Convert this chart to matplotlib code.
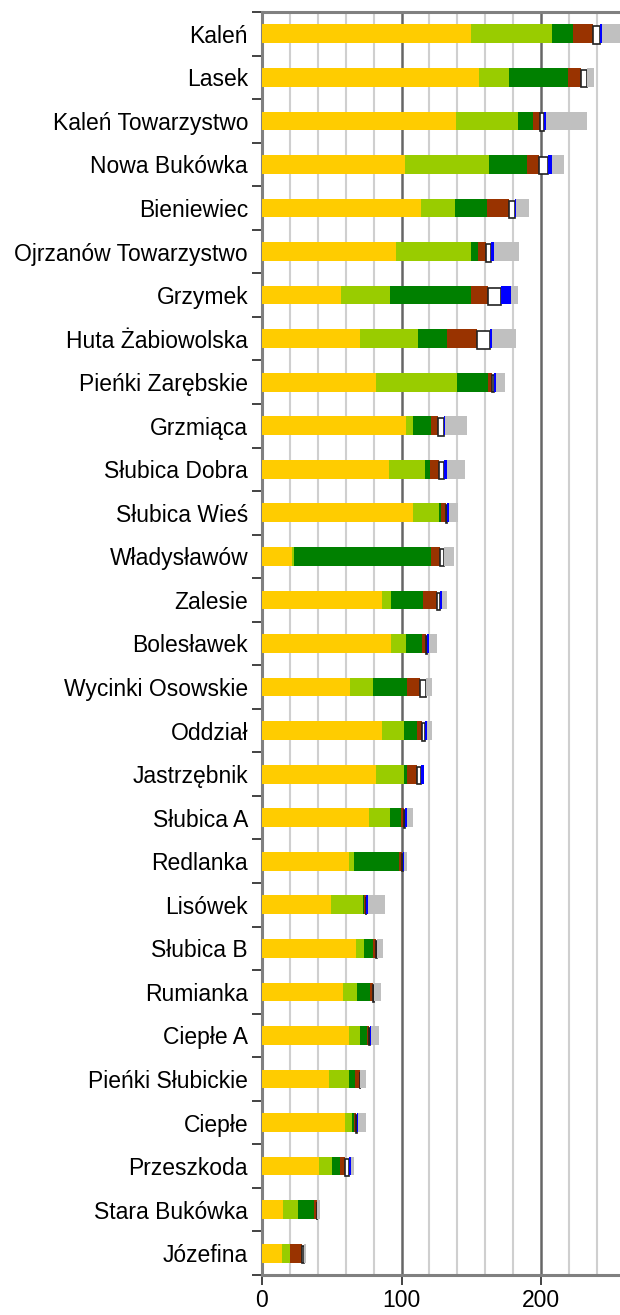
import numpy as np
import matplotlib.pyplot as plt
from matplotlib.ticker import MultipleLocator, FixedLocator

plt.rcParams['font.family'] = ['Liberation Sans', 'DejaVu Sans']

places = ["Kaleń", "Lasek", "Kaleń Towarzystwo", "Nowa Bukówka", "Bieniewiec",
          "Ojrzanów Towarzystwo", "Grzymek", "Huta Żabiowolska", "Pieńki Zarębskie",
          "Grzmiąca", "Słubica Dobra", "Słubica Wieś", "Władysławów", "Zalesie",
          "Bolesławek", "Wycinki Osowskie", "Oddział", "Jastrzębnik", "Słubica A",
          "Redlanka", "Lisówek", "Słubica B", "Rumianka", "Ciepłe A",
          "Pieńki Słubickie", "Ciepłe", "Przeszkoda", "Stara Bukówka", "Józefina"]

yellow = [150, 155.5, 139, 102.4, 113.9, 95.9, 56.5, 70.1, 81.6, 103.1, 90.9, 108.1,
          21.3, 85.9, 92.3, 62.9, 85.9, 81.6, 76.6, 62.2, 49.3, 67.2, 57.9, 62.2,
          47.8, 59.3, 40.7, 14.8, 14.1]
lgreen = [58.1, 21.5, 44.5, 60.3, 24.4, 53.8, 35.2, 41.6, 58.1, 5.0, 25.8, 18.7,
          1.4, 6.5, 10.8, 16.5, 15.8, 20.1, 15.1, 3.6, 23.0, 5.7, 10.0, 7.9,
          14.4, 5.0, 9.3, 10.8, 5.7]
dgreen = [14.8, 42.6, 10.5, 27.0, 22.7, 5.0, 57.7, 20.8, 22.2, 12.7, 3.6, 1.4,
          98.1, 23.0, 11.5, 24.2, 9.1, 1.9, 7.9, 32.1, 0.7, 6.5, 9.3, 5.0,
          4.3, 1.4, 5.7, 11.5, 0]
brown = [13.9, 9.1, 5.3, 8.9, 16.0, 5.7, 12.7, 21.5, 2.9, 5.0, 6.5, 3.6,
         6.7, 10.0, 2.9, 9.6, 3.8, 7.4, 2.2, 2.4, 1.4, 2.2, 2.2, 1.4,
         3.6, 1.4, 3.6, 2.2, 8.6]
white = [5.3, 4.0, 2.5, 6.5, 4.0, 3.6, 9.3, 9.3, 1.2, 4.3, 3.6, 1.0,
         2.9, 1.9, 1.0, 4.3, 1.9, 2.6, 1.0, 0.5, 0.3, 0.5, 0.7, 0.7,
         0.3, 1.0, 2.9, 0, 1.4]
blue = [1.7, 0, 1.4, 2.6, 1.0, 1.9, 7.2, 1.4, 1.4, 1.0, 2.2, 1.2,
        0, 1.7, 1.0, 0, 1.7, 2.4, 1.0, 1.0, 1.4, 0, 0, 0.7,
        0, 1.0, 1.4, 0, 0]
gray = [12.4, 5.3, 29.4, 8.9, 9.3, 18.2, 5.0, 17.2, 6.7, 15.8, 12.9, 6.7,
        7.2, 3.6, 6.0, 4.3, 3.6, 0, 4.5, 2.2, 12.2, 4.5, 5.0, 5.7,
        4.3, 5.3, 2.2, 1.9, 1.9]

series = [yellow, lgreen, dgreen, brown, white, blue, gray]
colors = ['#FFCC00', '#99CC00', '#008000', '#993300', '#FFFFFF', '#0000FF', '#C0C0C0']

fig = plt.figure(figsize=(6.2, 13.15), dpi=100)
ax = fig.add_axes([262/620, 40/1315, 1 - 262/620, 1263/1315])

y = np.arange(len(places))
left = np.zeros(len(places))
for vals, c in zip(series, colors):
    vals = np.array(vals, dtype=float)
    if c == '#FFFFFF':
        ax.barh(y + 0.03, vals, left=left, height=0.40, color=c,
                edgecolor='#222222', linewidth=1.2, zorder=3)
    else:
        ax.barh(y, vals, left=left, height=0.43, color=c, linewidth=0, zorder=3)
    left += vals

ax.set_xlim(0, 256.5)
ax.set_ylim(len(places) - 0.5, -0.5)

ax.set_yticks(y)
ax.set_yticklabels(places, fontsize=16.5)
ax.yaxis.set_minor_locator(FixedLocator(np.arange(-0.5, len(places), 1)))
ax.tick_params(axis='y', which='major', length=0, pad=10)
ax.tick_params(axis='y', which='minor', length=7, width=1.2, color='#222222')

ax.set_xticks([0, 100, 200])
ax.set_xticklabels(['0', '100', '200'], fontsize=16.5)
ax.xaxis.set_minor_locator(MultipleLocator(20))
ax.tick_params(axis='x', which='major', length=7, width=1.2, color='#222222', pad=3)
ax.tick_params(axis='x', which='minor', length=0)

ax.grid(axis='x', which='minor', color='#CFCFCF', linewidth=1.5, zorder=0)
ax.grid(axis='x', which='major', color='#666666', linewidth=1.8, zorder=1)

for s in ['left', 'top', 'bottom']:
    ax.spines[s].set_color('#808080')
    ax.spines[s].set_linewidth(2.2)
ax.spines['right'].set_visible(False)

fig.savefig('out.png', dpi=100)
